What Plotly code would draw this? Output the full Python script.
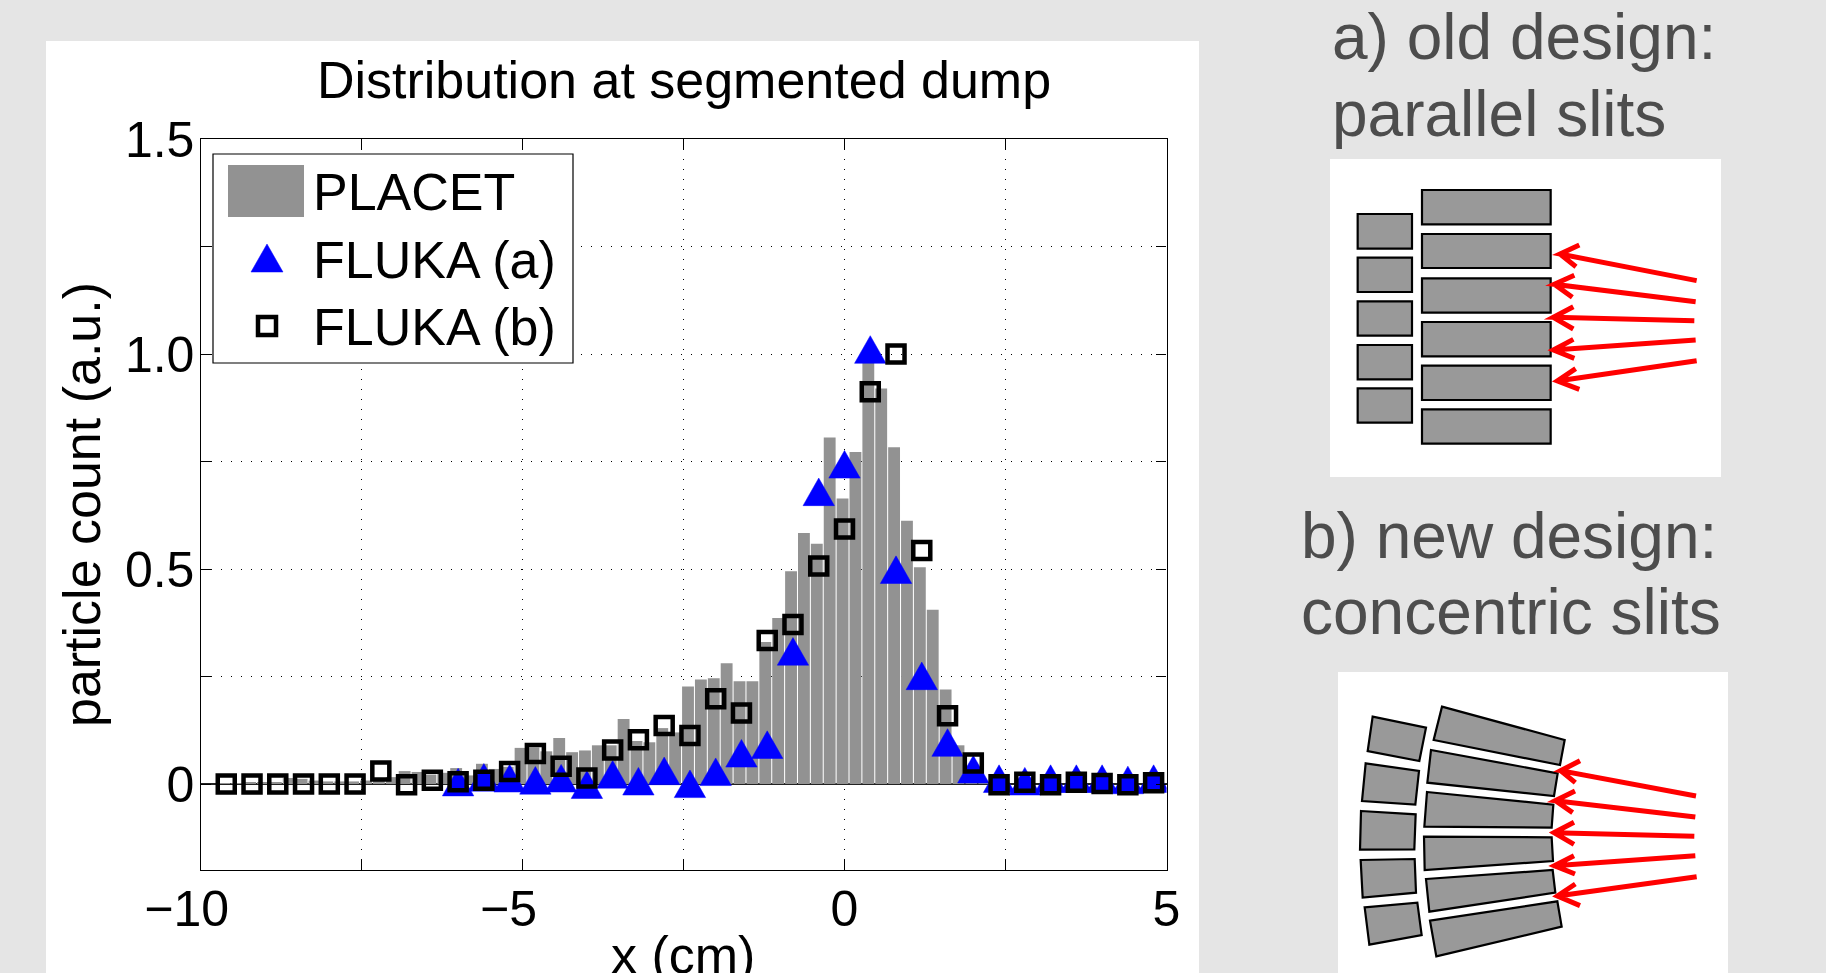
import plotly.graph_objects as go

W, H = 1826, 973
TITLE = "Distribution at segmented dump"

# ---------- chart data ----------
placet_x = [-9.63,-9.43,-9.23,-9.03,-8.83,-8.63,-8.43,-8.23,-8.03,-7.83,-7.63,-7.43,-7.23,-7.03,-6.83,-6.63,-6.43,-6.23,-6.03,-5.83,
            -5.63,-5.43,-5.23,-5.03,-4.83,-4.63,-4.43,-4.23,-4.03,-3.83,-3.63,-3.43,-3.23,-3.03,-2.83,-2.63,-2.43,-2.23,-2.03,-1.83,
            -1.63,-1.43,-1.23,-1.03,-0.83,-0.63,-0.43,-0.23,-0.03,0.17,0.37,0.57,0.77,0.97,1.17,1.37,1.57,1.77,1.97,2.17]
placet_y = [0.002,0.002,0.003,0.003,0.004,0.014,0.012,0.008,0.006,0.006,0.006,0.008,0.012,0.016,0.03,0.028,0.022,0.026,0.037,0.02,
            0.047,0.035,0.04,0.084,0.085,0.076,0.107,0.074,0.078,0.09,0.09,0.151,0.10,0.097,0.13,0.12,0.227,0.243,0.246,0.281,
            0.239,0.239,0.33,0.386,0.495,0.584,0.559,0.806,0.664,0.772,1.0,0.92,0.783,0.612,0.504,0.405,0.22,0.09,0.04,0.005]

fluka_a_x = [-6.0,-5.6,-5.2,-4.8,-4.4,-4.0,-3.6,-3.2,-2.8,-2.4,-2.0,-1.6,-1.2,-0.8,-0.4,0.0,0.4,0.8,1.2,1.6,2.0,2.4,2.8,3.2,3.6,4.0,4.4,4.8]
fluka_a_y = [-0.006,0.005,0.003,-0.002,0.003,-0.012,0.012,-0.004,0.02,-0.01,0.018,0.061,0.081,0.298,0.669,0.733,1.0,0.488,0.241,0.086,0.024,0.002,-0.004,0.002,0.002,0.002,-0.001,0.002]

fluka_b_x = [-9.6,-9.2,-8.8,-8.4,-8.0,-7.6,-7.2,-6.8,-6.4,-6.0,-5.6,-5.2,-4.8,-4.4,-4.0,-3.6,-3.2,-2.8,-2.4,-2.0,-1.6,-1.2,-0.8,-0.4,0.0,0.4,0.8,1.2,1.6,2.0,2.4,2.8,3.2,3.6,4.0,4.4,4.8]
fluka_b_y = [0,0,0,0,0,0,0.03,-0.002,0.009,0.005,0.009,0.029,0.071,0.041,0.014,0.079,0.103,0.136,0.113,0.198,0.165,0.334,0.371,0.507,0.593,0.912,1.0,0.543,0.159,0.049,-0.002,0.004,-0.002,0.004,0.001,-0.002,0.003]

x_ticks = [-10,-7.5,-5,-2.5,0,2.5,5]
# trailing spaces keep the digits centred on the tick, with the minus hanging to the left
x_labels = ["\u221210\u00a0\u00a0","","\u22125\u00a0\u00a0","","0","","5"]
y_ticks = [0,0.25,0.5,0.75,1.0,1.25,1.5]
y_labels = ["0","","0.5","","1.0","","1.5"]

# ---------- layout constants ----------
PL, PR, PT, PB = 200.5, 1166.5, 139.0, 870.0
XR = (-10, 5); YR = (-0.2, 1.5)
PX_X = (PR-PL)/(XR[1]-XR[0]); PX_Y = (PB-PT)/(YR[1]-YR[0])
FONT = "Liberation Sans"
BAR_GREY = "#929292"; GREY_TXT = "#4d4d4d"; BG = "#e5e5e5"

def px(x): return x/W
def py(y): return 1-y/H

def rect(x0,y0,x1,y1,fill,line=None,lw=0,layer="below"):
    return dict(type="rect",xref="paper",yref="paper",x0=px(x0),x1=px(x1),y0=py(y0),y1=py(y1),
                fillcolor=fill,line=dict(color=line or fill,width=lw),layer=layer)
def path(pts,closed=False,fill=None,color="black",lw=2,layer="above"):
    d="M"+" L".join(f"{px(a):.5f},{py(b):.5f}" for a,b in pts)+(" Z" if closed else "")
    s=dict(type="path",xref="paper",yref="paper",path=d,line=dict(color=color,width=lw),layer=layer)
    if fill: s["fillcolor"]=fill
    return s

shapes=[rect(46,41,1199,H+5,"white"),
        rect(1330,159,1721,477,"white"),
        rect(1338,672,1728,H+5,"white")]

# diagram a: geometry (crop coords /3 + offset)
def a_pt(p): return (1320+p[0]/3,150+p[1]/3)
def b_pt(p): return (1320+p[0]/3,660+p[1]/3)
a_left=[(192,296),(323,426),(454,557),(585,688),(715,818)]
a_right=[(120,223),(252,354),(385,488),(516,619),(647,750),(778,881)]
for t,b in a_left:
    shapes.append(rect(*a_pt((113,t)),*a_pt((276,b)),"#999999","black",2.2,"above"))
for t,b in a_right:
    shapes.append(rect(*a_pt((306,t)),*a_pt((692,b)),"#999999","black",2.2,"above"))
a_arrows=[[(1130,392),(720,312),(778,285),(720,312),(768,350)],
          [(1127,455),(703,403),(763,376),(703,403),(757,442)],
          [(1123,512),(700,502),(760,470),(700,502),(760,537)],
          [(1127,570),(700,600),(760,568),(700,600),(763,625)],
          [(1130,632),(712,693),(767,656),(712,693),(778,718)]]
for ar in a_arrows:
    shapes.append(path([a_pt(p) for p in ar],color="#ff0000",lw=5))

b_polys=[[(158,170),(318,203),(298,303),(143,273)],[(137,310),(297,333),(286,434),(126,423)],
         [(123,453),(287,463),(283,568),(120,569)],[(122,600),(284,597),(288,698),(128,713)],
         [(134,742),(292,728),(305,825),(148,854)],
         [(366,140),(734,240),(720,315),(341,240)],[(333,270),(713,340),(702,408),(322,368)],
         [(321,396),(700,434),(695,503),(313,500)],[(312,530),(695,532),(699,603),(314,630)],
         [(318,657),(698,630),(706,698),(328,755)],[(330,782),(712,724),(725,800),(349,889)]]
for pl in b_polys:
    shapes.append(path([b_pt(p) for p in pl],closed=True,fill="#999999",lw=2.2))
b_arrows=[[(1128,408),(722,332),(780,302),(722,332),(766,368)],
          [(1126,471),(706,422),(765,393),(706,422),(758,458)],
          [(1123,529),(702,518),(762,487),(702,518),(762,553)],
          [(1126,587),(703,617),(762,587),(703,617),(765,642)],
          [(1130,650),(712,708),(766,672),(712,708),(780,737)]]
for ar in b_arrows:
    shapes.append(path([b_pt(p) for p in ar],color="#ff0000",lw=5))

# legend box
shapes.append(rect(213,154,573,363,"white","black",1.2,"above"))
shapes.append(rect(228,165,304,217,BAR_GREY,None,0,"above"))
shapes.append(path([(251,272),(283,272),(267,244)],closed=True,fill="#0000ff",color="#0000ff",lw=0.5))
shapes.append(rect(258,317,276,335,"rgba(0,0,0,0)","black",4.5,"above"))

fig=go.Figure()
fig.add_bar(x=placet_x,y=placet_y,name="PLACET",marker=dict(color=BAR_GREY,line=dict(width=0)),width=0.184,showlegend=False)
fig.add_scatter(x=fluka_a_x,y=fluka_a_y,mode="markers",name="FLUKA (a)",showlegend=False,
                marker=dict(symbol="triangle-up",size=22,color="#0000ff",line=dict(width=0)))
# equilateral outline of each FLUKA (a) marker, offset from its data point
tri_x=[];tri_y=[]
for xv,yv in zip(fluka_a_x,fluka_a_y):
    tri_x+=[xv-15.7/PX_X,xv+15.7/PX_X,xv,xv-15.7/PX_X,None]
    tri_y+=[yv-9.3/PX_Y,yv-9.3/PX_Y,yv+18.3/PX_Y,yv-9.3/PX_Y,None]
fig.add_scatter(x=tri_x,y=tri_y,mode="lines",fill="toself",fillcolor="#0000ff",line=dict(color="#0000ff",width=0.5),
                hoverinfo="skip",showlegend=False,name="FLUKA (a) outline")
fig.add_scatter(x=fluka_b_x,y=fluka_b_y,mode="markers",name="FLUKA (b)",showlegend=False,
                marker=dict(symbol="square-open",size=17,color="black",line=dict(width=4.5,color="black")))

def ann(text,x,y,size,color="black",xanchor="left"):
    return dict(text=text,xref="paper",yref="paper",x=px(x),y=py(y),xanchor=xanchor,yanchor="middle",showarrow=False,
                font=dict(family=FONT,size=size,color=color))
annotations=[ann("PLACET",311,192,52),ann("FLUKA (a)",311,260,52),ann("FLUKA (b)",311,327,52),
             ann("x (cm)",683,955,52,xanchor="center"),
             ann("a) old design:",1330,37,64,GREY_TXT),ann("parallel slits",1330,114,64,GREY_TXT),
             ann("b) new design:",1299,536,64,GREY_TXT),ann("concentric slits",1299,612,64,GREY_TXT)]

axis_common=dict(showline=True,linecolor="black",linewidth=1.2,mirror="ticks",ticks="inside",ticklen=10,tickcolor="black",tickwidth=1,automargin=False,
                 showgrid=True,gridcolor="black",gridwidth=1,griddash="1px,9px",ticklabelstandoff=-5,tickfont=dict(family=FONT,size=50,color="black"))
fig.update_layout(width=W,height=H,autosize=False,margin=dict(l=0,r=0,t=0,b=0,pad=0),
    paper_bgcolor=BG,plot_bgcolor="rgba(0,0,0,0)",showlegend=False,barmode="overlay",
    title=dict(text=TITLE,x=684/W,xanchor="center",y=py(80),yanchor="middle",font=dict(family=FONT,size=52,color="black")),
    shapes=shapes,annotations=annotations,
    xaxis=dict(domain=[PL/W,PR/W],range=list(XR),tickvals=x_ticks,ticktext=x_labels,zeroline=False,**axis_common),
    yaxis=dict(domain=[1-PB/H,1-PT/H],range=list(YR),tickvals=y_ticks,ticktext=y_labels,zeroline=True,zerolinecolor="#222222",zerolinewidth=1.5,
               title=dict(text="particle count (a.u.)",font=dict(family=FONT,size=52,color="black"),standoff=7),**axis_common))

fig.write_html("out.html",config=dict(displayModeBar=False),post_script="document.body.style.margin='0';document.body.style.overflow='hidden';")
